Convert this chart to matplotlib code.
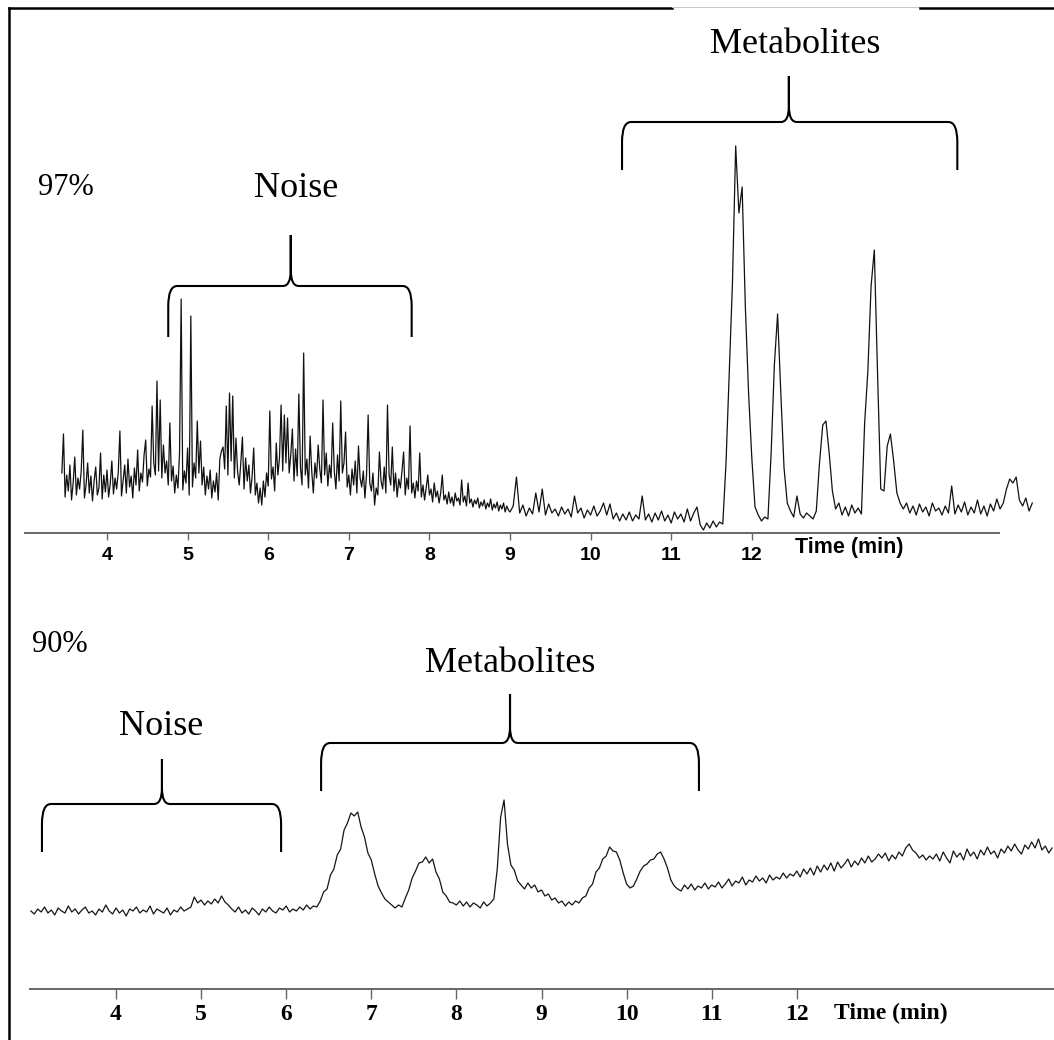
import numpy as np
import matplotlib
matplotlib.use('Agg')
import matplotlib.pyplot as plt
from matplotlib.path import Path
from matplotlib.patches import PathPatch
from matplotlib.lines import Line2D

# Chromatogram at 97%, noisy part (starts 3.44 min, step 0.02 min)
top_head_start, top_head_step = 3.44, 0.02
top_head_signal = [
    60, 99, 36, 58, 42, 68, 33, 50, 76, 38, 55, 44, 62, 103, 35, 48, 70, 40, 57, 32,
    52, 66, 38, 45, 80, 34, 58, 41, 63, 36, 49, 72, 39, 55, 44, 61, 102, 37, 53, 68,
    40, 74, 46, 57, 35, 65, 48, 83, 42, 60, 51, 78, 93, 47, 64, 56, 127, 70, 58, 152,
    62, 133, 55, 88, 60, 72, 48, 110, 52, 67, 40, 58, 45, 80, 234, 43, 62, 50, 85, 38,
    217, 46, 70, 55, 112, 60, 92, 48, 66, 38, 57, 44, 63, 35, 52, 41, 60, 33, 74, 82,
    86, 64, 127, 58, 140, 72, 137, 55, 95, 62, 48, 70, 96, 44, 75, 52, 68, 40, 56, 85,
    38, 50, 30, 45, 28, 52, 36, 60, 47, 122, 54, 66, 42, 90, 58, 75, 128, 62, 118, 70,
    115, 60, 78, 104, 52, 84, 57, 139, 66, 48, 180, 58, 74, 45, 97, 62, 40, 70, 55, 88,
    64, 50, 133, 58, 80, 47, 68, 55, 110, 62, 44, 78, 52, 132, 60, 70, 101, 46, 58, 38,
    64, 48, 72, 40, 87, 55, 46, 62, 35, 58, 118, 50, 42, 60, 28, 45, 38, 81, 52, 44,
    66, 40, 128, 58, 48, 86, 42, 60, 36, 54, 45, 62, 81, 38, 55, 44, 107, 40, 50, 35,
    52, 42, 80, 36, 48, 33, 45, 58, 38, 44, 31, 50, 36, 42, 30, 40, 58, 33, 38, 29,
    41, 30, 36, 27, 40, 32, 35, 28, 53, 31, 37, 27, 50, 30, 34, 26, 33, 29, 35, 25,
    31, 27, 33, 24, 30, 26, 34, 23, 29, 25, 31, 22, 28, 24, 30, 21, 27, 23,
]

# Chromatogram at 97%, peak part (starts 9.00 min, step 0.04 min)
top_tail_start, top_tail_step = 9.00, 0.04
top_tail_signal = [
    21,
    27, 56, 20, 28, 17, 25, 19, 40, 21, 44, 18, 29, 20, 24,
    17, 26, 19, 24, 16, 37, 20, 25, 15, 23, 18, 27, 17, 22,
    30, 18, 29, 14, 20, 12, 19, 13, 21, 12, 18, 14, 37, 13,
    19, 11, 20, 13, 22, 12, 18, 10, 21, 14, 19, 11, 24, 12,
    20, 26, 8, 3, 10, 5, 12, 6, 11, 9,
    70, 160, 250, 387, 320, 346, 226, 140, 75, 26,
    18, 12, 16, 14,
    80, 168, 219, 140, 65, 30, 22, 16, 37, 19, 15, 20, 17,
    14, 22, 70, 108, 112, 80, 42, 24,
    30, 18, 26, 17, 28, 20, 25, 19,
    110, 162, 247, 283, 160, 44,
    42, 87, 99, 72, 40, 30, 24,
    30, 20, 27, 18, 29, 21, 26, 17, 30, 22, 25, 18, 27, 20, 47,
    19, 28, 21, 31, 18, 26, 20, 33, 19, 27, 17, 29, 22, 34, 24,
    30, 44, 54, 50, 56, 33, 27, 35, 22, 30,
]

# Chromatogram at 90% (starts 3.00 min, step 0.04 min)
bot_start, bot_step = 3.00, 0.04
bot_signal = [
    78, 75, 80, 77, 82, 76, 79, 74, 81, 78,
    76, 83, 77, 80, 75, 79, 82, 76, 78, 74,
    80, 77, 84, 78, 75, 81, 76, 79, 73, 80,
    78, 82, 76, 79, 77, 83, 75, 80, 78, 76,
    81, 74, 79, 77, 82, 78, 80,
    82, 92, 86, 89, 84, 88, 85, 90, 86, 93, 87, 84,
    80, 77, 82, 76, 79, 75, 81, 78, 74, 80,
    77, 82, 78, 76, 81, 79, 83, 77, 80, 78,
    82, 79, 84, 80, 83,
    82,
    88, 97, 100, 114, 120, 134, 140, 159, 166, 176, 173, 177, 162,
    152, 136, 129, 115, 103, 96, 90, 87, 84, 81, 84, 82,
    91, 99, 111, 118, 126, 127, 132, 126, 130, 117, 110, 97, 93, 87, 86,
    84, 88, 83, 87, 82, 86, 84, 81, 87, 83, 86,
    90, 120, 172, 189, 145, 124, 119, 108, 104,
    100, 106, 101, 104, 97, 99, 93, 95, 89, 91, 86, 88, 83, 87, 84, 88, 86, 91,
    93, 101, 105, 117, 121, 130, 133, 142, 138, 137, 129, 116, 105, 101, 103,
    110, 118, 123, 125, 129, 130, 135, 137, 130, 121, 109, 103, 100,
    98, 104, 100, 105, 99, 103, 101, 106, 100, 104, 102, 107, 101,
    105, 110, 103, 108, 106, 112, 104, 109, 107, 113, 108, 111, 106, 114,
    109, 112, 110, 116, 111, 115, 113,
    118, 112, 120, 115, 121, 114, 123, 117, 124, 119, 126, 118, 127,
    121, 125, 130, 122, 128, 124, 131, 126, 133, 127, 130, 135,
    131, 136, 128, 134, 130, 137, 133, 141, 145, 139, 136, 131, 134, 129, 133, 130,
    135, 128, 137, 131, 126, 138, 132, 136, 129, 140,
    133, 137, 130, 139, 134, 142, 135, 138, 131, 140,
    136, 143, 138, 145, 139, 135, 144, 140, 147, 141, 150, 139, 143, 136, 141,
]

tick_values = [4, 5, 6, 7, 8, 9, 10, 11, 12]

# brace annotations: (left, right, tip) in minutes, (low, mid, top) in signal units
top_noise_brace = [4.76, 7.78, 6.28, 196, 247, 298]
top_metab_brace = [10.39, 14.55, 12.46, 363, 411, 457]
bot_noise_brace = [3.13, 5.94, 4.54, 137, 185, 230]
bot_metab_brace = [6.41, 10.85, 8.63, 198, 246, 295]

W, H = 1054, 1040
SERIF = ['Liberation Serif', 'DejaVu Serif']
SANS = ['Liberation Sans', 'DejaVu Sans']


def draw_brace(ax, brace, ppm):
    left, right, tip, y_low, y_mid, y_top = brace
    cx, cy = 9 / ppm, 20   # corner size (px)
    kx, ky = 8 / ppm, 16   # cusp size (px)
    verts = [(left, y_low), (left, y_mid - cy), (left, y_mid), (left + cx, y_mid),
             (tip - kx, y_mid), (tip, y_mid), (tip, y_mid + ky), (tip, y_top),
             (tip, y_mid + ky), (tip, y_mid), (tip + kx, y_mid),
             (right - cx, y_mid), (right, y_mid), (right, y_mid - cy), (right, y_low)]
    codes = [Path.MOVETO, Path.LINETO, Path.CURVE3, Path.CURVE3,
             Path.LINETO, Path.CURVE3, Path.CURVE3, Path.LINETO,
             Path.LINETO, Path.CURVE3, Path.CURVE3,
             Path.LINETO, Path.CURVE3, Path.CURVE3, Path.LINETO]
    ax.add_patch(PathPatch(Path(verts, codes), fill=False, lw=1.5,
                           edgecolor='black', capstyle='butt'))


def style_axis(ax, x0, x1, tick_len, label_font, label_size, pad):
    for s in ['left', 'right', 'top']:
        ax.spines[s].set_visible(False)
    ax.spines['bottom'].set_position(('data', 0))
    ax.spines['bottom'].set_bounds(x0, x1)
    ax.spines['bottom'].set_color('#666666')
    ax.spines['bottom'].set_linewidth(1.4)
    ax.set_yticks([])
    ax.set_xticks(tick_values)
    ax.set_xticklabels([str(v) for v in tick_values])
    ax.tick_params(axis='x', direction='out', length=tick_len, width=1.0,
                   color='#666666', pad=pad)
    for lbl in ax.get_xticklabels():
        lbl.set_family(label_font)
        lbl.set_fontweight('bold')
        lbl.set_fontsize(label_size)
    ax.patch.set_alpha(0)


fig = plt.figure(figsize=(W / 100, H / 100), dpi=100)

# top panel: 107 px -> 4 min, 80.6 px/min, baseline at y=533 px
ppm_top = 80.6
ax1 = fig.add_axes([0, 1 - 570 / H, 1, 570 / H])
ax1.set_xlim(4 - 107 / ppm_top, 4 + (W - 107) / ppm_top)
ax1.set_ylim(533 - 570, 533)
t_head = top_head_start + top_head_step * np.arange(len(top_head_signal))
t_tail = top_tail_start + top_tail_step * np.arange(len(top_tail_signal))
t_top = np.concatenate([t_head, t_tail])
y_top = np.concatenate([top_head_signal, top_tail_signal])
ax1.plot(t_top, y_top, color='#111111', lw=0.9)
style_axis(ax1, 4 - 82 / ppm_top, 4 + 892 / ppm_top, 5, SANS, 14, 5)
ax1.text(4 + 688 / ppm_top, -14, 'Time (min)', family=SANS, fontweight='bold',
         fontsize=15.5, ha='left', va='center')
ax1.text(4 - 69 / ppm_top, 338, '97%', family=SERIF, fontsize=22, va='baseline')
ax1.text(4 + 189 / ppm_top, 336, 'Noise', family=SERIF, fontsize=26,
         ha='center', va='baseline')
ax1.text(4 + 688 / ppm_top, 480, 'Metabolites', family=SERIF, fontsize=26,
         ha='center', va='baseline')
draw_brace(ax1, top_noise_brace, ppm_top)
draw_brace(ax1, top_metab_brace, ppm_top)

# bottom panel: 116 px -> 4 min, 85.1 px/min, baseline at y=989 px
ppm_bot = 85.1
ax2 = fig.add_axes([0, 0, 1, 465 / H])
ax2.set_xlim(4 - 116 / ppm_bot, 4 + (W - 116) / ppm_bot)
ax2.set_ylim(989 - 1040, 989 - 575)
t_bot = bot_start + bot_step * np.arange(len(bot_signal))
ax2.plot(t_bot, bot_signal, color='#151515', lw=0.9)
style_axis(ax2, 4 - 86 / ppm_bot, 4 + (W - 116) / ppm_bot, 7, SERIF, 17, 4)
ax2.text(4 + 718 / ppm_bot, -24, 'Time (min)', family=SERIF, fontweight='bold',
         fontsize=17, ha='left', va='center')
ax2.text(4 - 84 / ppm_bot, 337, '90%', family=SERIF, fontsize=22, va='baseline')
ax2.text(4 + 45 / ppm_bot, 254, 'Noise', family=SERIF, fontsize=26,
         ha='center', va='baseline')
ax2.text(4 + 394 / ppm_bot, 317, 'Metabolites', family=SERIF, fontsize=26,
         ha='center', va='baseline')
draw_brace(ax2, bot_noise_brace, ppm_bot)
draw_brace(ax2, bot_metab_brace, ppm_bot)

# outer frame (left and top edges)
fy = 1 - 8 / H
fx = 8.5 / W
fig.add_artist(Line2D([fx, fx], [fy, 0], color='black', lw=1.8,
                      transform=fig.transFigure))
fig.add_artist(Line2D([fx, 672 / W], [fy, fy], color='black', lw=1.8,
                      transform=fig.transFigure))
fig.add_artist(Line2D([672 / W, 920 / W], [1 - 7 / H, 1 - 7 / H], color='#cccccc',
                      lw=0.8, transform=fig.transFigure))
fig.add_artist(Line2D([920 / W, 1], [fy, fy], color='black', lw=1.8,
                      transform=fig.transFigure))

fig.savefig('out.png', dpi=100)
